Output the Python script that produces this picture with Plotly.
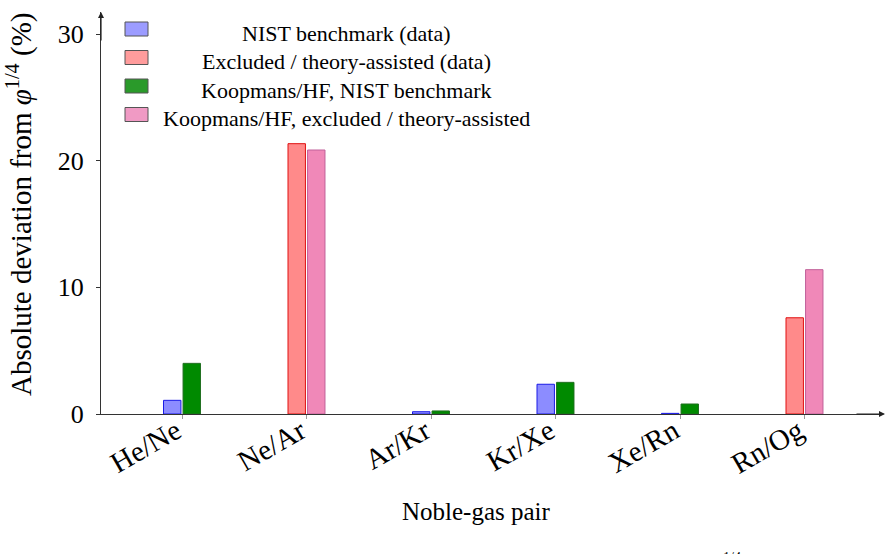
import plotly.graph_objects as go

categories = ["He/Ne", "Ne/Ar", "Ar/Kr", "Kr/Xe", "Xe/Rn", "Rn/Og"]
nist_data = [1.08, None, 0.18, 2.35, 0.05, None]
excluded_data = [None, 21.35, None, None, None, 7.6]
koop_nist = [4.0, None, 0.24, 2.5, 0.79, None]
koop_excluded = [None, 20.85, None, None, None, 11.4]
series_names = ["NIST benchmark (data)", "Excluded / theory-assisted (data)",
                "Koopmans/HF, NIST benchmark", "Koopmans/HF, excluded / theory-assisted"]
y_ticks = [0, 10, 20, 30]

FONT = "Liberation Serif"
W = 0.14
LEFT = -0.149
RIGHT = 0.008
fills = ["#8c8cff", "#ff8a8a", "#008a00", "#f088b8"]
edges = ["#1a1ae6", "#e01010", "#1f6f1f", "#c0609a"]
legend_fills = ["#9c9cff", "#ff9c9c", "#2a9a2a", "#f09ac4"]
offsets = [LEFT, LEFT, RIGHT, RIGHT]
series = [nist_data, excluded_data, koop_nist, koop_excluded]

# plot-area geometry (pixels)
L, R, T, B = 101, 11, 12, 140
PW = 891 - L - R
PH = 554 - T - B


def px(x):
    return (x - L) / PW


def py(y):
    return (554 - B - y) / PH


fig = go.Figure()
for vals, name, fc, ec, off in zip(series, series_names, fills, edges, offsets):
    fig.add_trace(go.Bar(x=categories, y=vals, name=name, width=W, offset=off,
                         showlegend=False,
                         marker=dict(color=fc, line=dict(color=ec, width=1))))

fig.update_layout(
    width=891, height=554,
    margin=dict(l=L, r=R, t=T, b=B),
    paper_bgcolor="white", plot_bgcolor="white",
    barmode="overlay",
    font=dict(family=FONT, color="black"),
    showlegend=False,
    xaxis=dict(range=[-0.651, 5.606], showline=True, linecolor="#333", linewidth=1,
               ticks="outside", ticklen=4, tickcolor="#999", tickangle=-30,
               ticklabelstandoff=-16, ticklabelshift=-6,
               tickfont=dict(size=29, family=FONT), showgrid=False, zeroline=False),
    yaxis=dict(range=[0, 31.75], showline=True, linecolor="#333", linewidth=1,
               tickvals=y_ticks, ticks="outside", ticklen=4, tickcolor="#333",
               ticklabelstandoff=7,
               tickfont=dict(size=26, family=FONT), showgrid=False, zeroline=False),
)

# custom legend (centred text column like the reference)
row_y = [29, 57.5, 86, 114.5]
for i, (name, lf, ec) in enumerate(zip(series_names, legend_fills, edges)):
    yc = row_y[i]
    fig.add_shape(type="rect", xref="paper", yref="paper",
                  x0=px(125), x1=px(148), y0=py(yc - 7), y1=py(yc + 7),
                  fillcolor=lf, line=dict(color="#555", width=1))
    fig.add_annotation(xref="paper", yref="paper", x=px(346), y=py(yc + 4),
                       text=name, showarrow=False, xanchor="center", yanchor="middle",
                       font=dict(size=22, family=FONT))

# axis arrows
fig.add_annotation(xref="paper", yref="paper", x=px(885), y=0, ax=-30, ay=0,
                   showarrow=True, arrowhead=2, arrowsize=1, arrowwidth=1.2,
                   arrowcolor="#222", text="")
fig.add_annotation(xref="paper", yref="paper", x=0, y=1.0, ax=0, ay=30,
                   showarrow=True, arrowhead=2, arrowsize=1, arrowwidth=1.2,
                   arrowcolor="#222", text="")

# axis titles
fig.add_annotation(xref="paper", yref="paper", x=px(476), y=py(512),
                   text="Noble-gas pair", showarrow=False, xanchor="center", yanchor="middle",
                   font=dict(size=25, family=FONT))
fig.add_annotation(xref="paper", yref="paper", x=px(19), y=py(205),
                   text="Absolute deviation from <i>φ</i><sup>1/4</sup> (%)", showarrow=False,
                   textangle=-90, xanchor="center", yanchor="middle",
                   font=dict(size=29, family=FONT))
# cut-off caption fragment at the bottom edge
fig.add_annotation(xref="paper", yref="paper", x=px(732), y=py(548),
                   text="1/4", showarrow=False, xanchor="center", yanchor="top",
                   font=dict(size=14, family=FONT))

fig.write_html("out.html")
